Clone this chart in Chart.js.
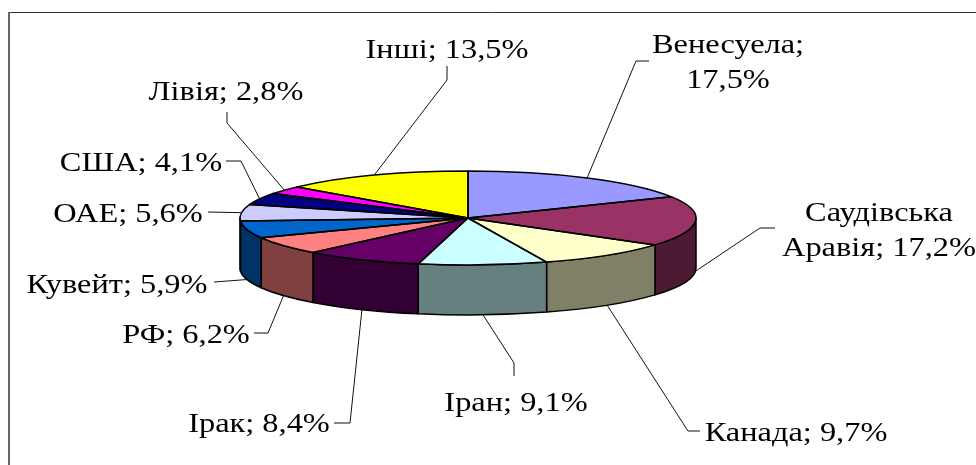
<!DOCTYPE html>
<html>
<head>
<meta charset="utf-8">
<title>Частка у світових запасах нафти</title>
<script src="https://cdn.jsdelivr.net/npm/chart.js@4/dist/chart.umd.min.js"></script>
<style>
  body { margin: 0; background: #fff; }
  canvas { display: block; }
</style>
</head>
<body>
<canvas id="oilChart" width="976" height="465"></canvas>
<script>
const categories = ['Венесуела', 'Саудівська Аравія', 'Канада', 'Іран', 'Ірак', 'РФ', 'Кувейт', 'ОАЕ', 'США', 'Лівія', 'Інші'];
const shares = [17.5, 17.2, 9.7, 9.1, 8.4, 6.2, 5.9, 5.6, 4.1, 2.8, 13.5];
const topColors = ['#9999ff', '#993366', '#ffffcc', '#ccffff', '#660066', '#ff8080', '#0066cc', '#ccccff', '#000080', '#ff00ff', '#ffff00'];
const wallColors = ['#4d4d80', '#4d1a33', '#808066', '#668080', '#330033', '#804040', '#003366', '#666680', '#000040', '#800080', '#808000'];

// label place (centre x, first baseline) and the leader's way from the label back to the pie
const labelLayout = [
    { x: 728, y: 53, wrap: true, leader: [[649, 61], [636, 61]] },
    { x: 879, y: 221, wrap: true, leader: [[775, 228], [760, 228]] },
    { x: 796, y: 441, leader: [[700, 431], [688, 431]] },
    { x: 516, y: 411, leader: [[514, 376], [514, 363]] },
    { x: 259, y: 432, leader: [[334, 423], [350, 423]] },
    { x: 186, y: 343, leader: [[254, 333], [268, 333]] },
    { x: 117, y: 293, leader: [[214, 282]] },
    { x: 128, y: 222, leader: [[208, 212]] },
    { x: 141, y: 171, leader: [[226, 161], [241, 161]] },
    { x: 226, y: 100, leader: [[227, 112], [227, 123]] },
    { x: 447, y: 58, leader: [[447, 66], [447, 80]] }
];

const tilt = 47 / 228;
const pieCentreY = 218;
const depth = 50;
const textStretch = 1.2; // the source picture was pulled wider

function squash(ctx, arc) {
    ctx.translate(0, pieCentreY);
    ctx.scale(1, tilt);
    ctx.translate(0, -arc.y);
}

function stretchedText(ctx, text, x, y) {
    ctx.save();
    ctx.translate(x, y);
    ctx.scale(textStretch, 1);
    ctx.fillText(text, 0, 0);
    ctx.restore();
}

const pie3d = {
    id: 'pie3d',
    beforeDatasetsDraw(chart) {
        const ctx = chart.ctx;
        const arcs = chart.getDatasetMeta(0).data;

        // sheet frame, only top and left show in the picture
        ctx.save();
        ctx.strokeStyle = '#333';
        ctx.lineWidth = 1;
        ctx.beginPath();
        ctx.moveTo(976, 12.5);
        ctx.lineTo(9, 12.5);
        ctx.stroke();
        ctx.strokeStyle = '#666';
        ctx.lineWidth = 2;
        ctx.beginPath();
        ctx.moveTo(9, 12);
        ctx.lineTo(9, 465);
        ctx.stroke();
        ctx.restore();

        // side wall, front half of the disc only
        ctx.save();
        ctx.strokeStyle = '#000';
        ctx.lineWidth = 1.5;
        ctx.lineJoin = 'round';
        arcs.forEach((arc, i) => {
            const a0 = Math.max(arc.startAngle, 0);
            const a1 = Math.min(arc.endAngle, Math.PI);
            if (a1 <= a0) return;
            const rx = arc.outerRadius;
            const ry = rx * tilt;
            ctx.beginPath();
            ctx.ellipse(arc.x, pieCentreY, rx, ry, 0, a0, a1);
            ctx.lineTo(arc.x + rx * Math.cos(a1), pieCentreY + ry * Math.sin(a1) + depth);
            ctx.ellipse(arc.x, pieCentreY + depth, rx, ry, 0, a1, a0, true);
            ctx.closePath();
            ctx.fillStyle = wallColors[i];
            ctx.fill();
            ctx.stroke();
        });
        ctx.restore();

        // the library fills the slices inside this squash
        ctx.save();
        squash(ctx, arcs[0]);
    },
    afterDatasetsDraw(chart) {
        const ctx = chart.ctx;
        const arcs = chart.getDatasetMeta(0).data;
        ctx.restore();

        // outlines: path squashed, pen not
        ctx.save();
        ctx.strokeStyle = '#000';
        ctx.lineWidth = 1.5;
        ctx.lineJoin = 'round';
        arcs.forEach(arc => {
            ctx.save();
            squash(ctx, arc);
            ctx.beginPath();
            ctx.moveTo(arc.x, arc.y);
            ctx.arc(arc.x, arc.y, arc.outerRadius, arc.startAngle, arc.endAngle);
            ctx.closePath();
            ctx.restore();
            ctx.stroke();
        });
        ctx.restore();

        // leaders
        ctx.save();
        ctx.strokeStyle = '#111';
        ctx.lineWidth = 1;
        arcs.forEach((arc, i) => {
            const mid = (arc.startAngle + arc.endAngle) / 2;
            const rx = arc.outerRadius;
            let py = pieCentreY + rx * tilt * Math.sin(mid);
            if (Math.sin(mid) > 0) py += depth;
            ctx.beginPath();
            labelLayout[i].leader.forEach(([x, y], n) => {
                if (n === 0) ctx.moveTo(x, y); else ctx.lineTo(x, y);
            });
            ctx.lineTo(arc.x + rx * Math.cos(mid), py);
            ctx.stroke();
        });
        ctx.restore();

        // labels
        ctx.save();
        ctx.fillStyle = '#000';
        ctx.font = '27px "Liberation Serif"';
        ctx.textAlign = 'center';
        ctx.textBaseline = 'alphabetic';
        categories.forEach((name, i) => {
            const text = name + '; ' + shares[i].toFixed(1).replace('.', ',') + '%';
            const place = labelLayout[i];
            if (place.wrap) {
                const cut = text.indexOf(' ');
                stretchedText(ctx, text.slice(0, cut), place.x, place.y);
                stretchedText(ctx, text.slice(cut + 1), place.x, place.y + 35);
            } else {
                stretchedText(ctx, text, place.x, place.y);
            }
        });
        ctx.restore();
    }
};

new Chart(document.getElementById('oilChart'), {
    type: 'pie',
    data: {
        labels: categories,
        datasets: [{
            data: shares,
            backgroundColor: topColors,
            borderWidth: 0
        }]
    },
    options: {
        responsive: false,
        animation: false,
        layout: { padding: { left: 240, right: 280, top: 4, bottom: 5 } },
        plugins: { legend: { display: false }, tooltip: { enabled: false } }
    },
    plugins: [pie3d]
});
</script>
</body>
</html>
